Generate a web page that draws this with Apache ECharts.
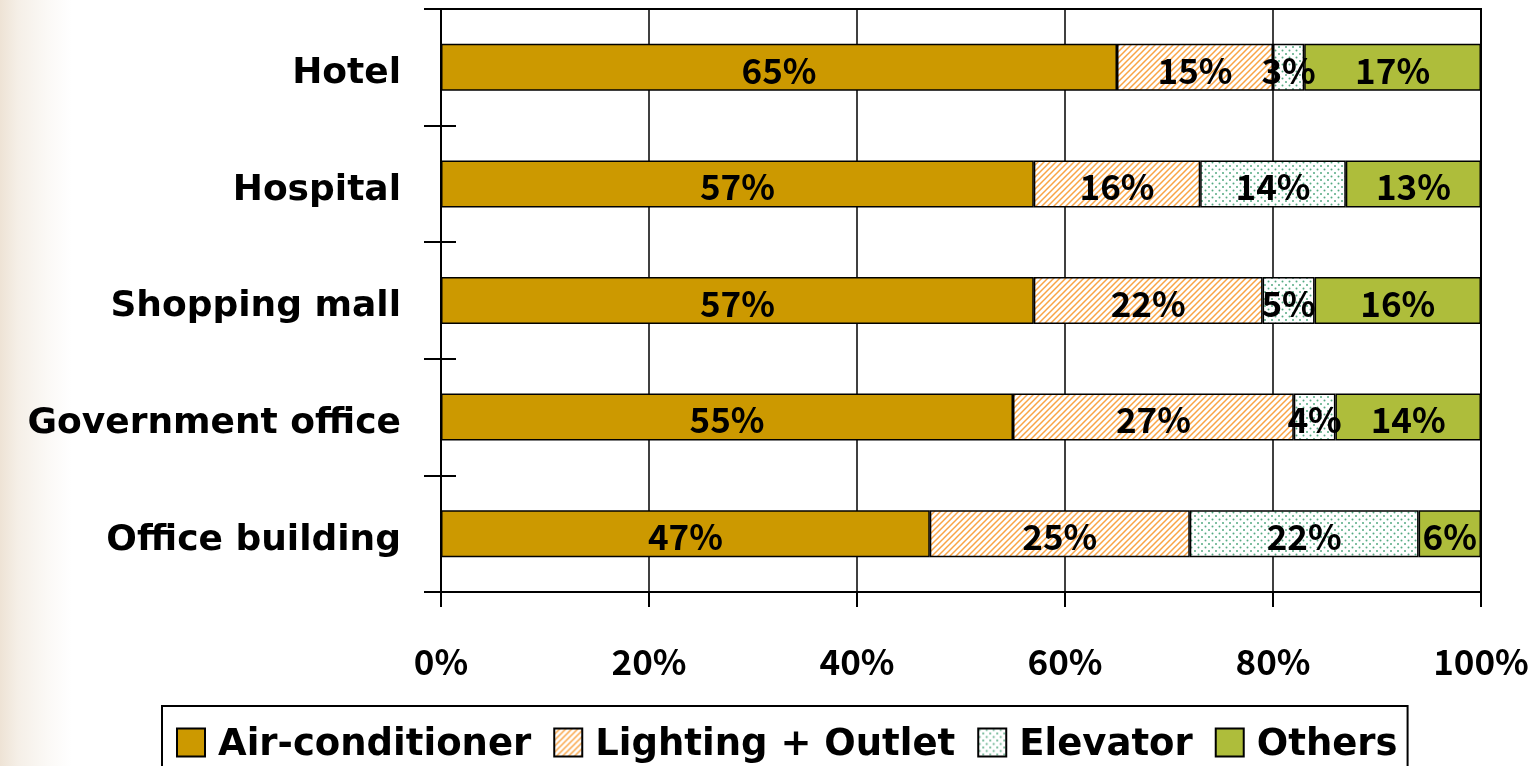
<!DOCTYPE html>
<html>
<head>
<meta charset="utf-8">
<script src="https://cdn.jsdelivr.net/npm/echarts@6/dist/echarts.min.js"></script>
<style>
html,body{margin:0;padding:0;background:#fff;}
#chart{width:1535px;height:766px;}
</style>
</head>
<body>
<div id="chart"></div>
<script>
const categories = ['Hotel', 'Hospital', 'Shopping mall', 'Government office', 'Office building'];
const seriesNames = ['Air-conditioner', 'Lighting + Outlet', 'Elevator', 'Others'];
const airConditioner = [65, 57, 57, 55, 47];
const lightingOutlet = [15, 16, 22, 27, 25];
const elevator = [3, 14, 5, 4, 22];
const others = [17, 13, 16, 14, 6];
const xTickValues = [0, 20, 40, 60, 80, 100];

function hatchPattern() {
  const c = document.createElement('canvas');
  c.width = 6; c.height = 6;
  const g = c.getContext('2d');
  g.fillStyle = '#fff'; g.fillRect(0, 0, 6, 6);
  g.strokeStyle = '#F9A445'; g.lineWidth = 1.5;
  g.beginPath();
  g.moveTo(0, 6); g.lineTo(6, 0);
  g.moveTo(-1, 1); g.lineTo(1, -1);
  g.moveTo(5, 7); g.lineTo(7, 5);
  g.stroke();
  return c;
}
function dotPattern() {
  const c = document.createElement('canvas');
  c.width = 7; c.height = 7;
  const g = c.getContext('2d');
  g.fillStyle = '#fff'; g.fillRect(0, 0, 7, 7);
  g.fillStyle = '#55AA82';
  g.beginPath(); g.arc(1.5, 1.5, 1.0, 0, Math.PI * 2); g.fill();
  g.beginPath(); g.arc(5, 5, 1.0, 0, Math.PI * 2); g.fill();
  return c;
}

const FONT = '"Noto Sans CJK JP", "Noto Sans", sans-serif';
const WIDE = '"DejaVu Sans", sans-serif';
const colors = [
  '#CC9900',
  { image: hatchPattern(), repeat: 'repeat' },
  { image: dotPattern(), repeat: 'repeat' },
  '#AEBD3B'
];
const values = [airConditioner, lightingOutlet, elevator, others];

function draw() {
  const chart = echarts.init(document.getElementById('chart'), null, { renderer: 'canvas' });

  const catAxisBase = {
    type: 'category',
    data: categories,
    inverse: true,
    position: 'left',
    axisLine: { show: true, lineStyle: { color: '#000', width: 2 } },
    splitLine: { show: false }
  };

  chart.setOption({
    animation: false,
    backgroundColor: '#fff',
    graphic: [{
      type: 'rect', z: -10, silent: true,
      shape: { x: 0, y: 0, width: 120, height: 766 },
      style: {
        fill: {
          type: 'linear', x: 0, y: 0, x2: 1, y2: 0,
          colorStops: [
            { offset: 0, color: '#EEE3D5' },
            { offset: 0.15, color: '#F5EFE7' },
            { offset: 0.4, color: '#FBF9F6' },
            { offset: 0.6, color: '#FFFFFF' },
            { offset: 1, color: '#FFFFFF' }
          ]
        }
      }
    }],
    grid: {
      left: 441, right: 54, top: 9, bottom: 174,
      show: true, borderColor: '#000', borderWidth: 2, backgroundColor: 'transparent'
    },
    legend: {
      data: seriesNames,
      left: 162, top: 706,
      padding: [15, 10, 30, 14],
      borderColor: '#000', borderWidth: 2,
      backgroundColor: '#fff',
      icon: 'rect',
      itemWidth: 28, itemHeight: 28, itemGap: 22,
      textStyle: {
        fontFamily: WIDE, fontSize: 37, color: '#000', fontWeight: 'bold',
        lineHeight: 6, padding: [0, 0, 0, 8]
      },
      formatter: function (name) { return '\n' + name; }
    },
    xAxis: {
      type: 'value', min: 0, max: 100, interval: 20,
      axisLine: { show: true, lineStyle: { color: '#000', width: 2 } },
      axisTick: { show: true, length: 15, lineStyle: { color: '#000', width: 2 } },
      splitLine: { show: true, lineStyle: { color: '#000', width: 1.5 } },
      axisLabel: {
        margin: 52, fontFamily: FONT, fontSize: 35, fontWeight: 'bold', color: '#000',
        formatter: function (v) { return xTickValues.indexOf(v) >= 0 ? v + '%' : ''; }
      }
    },
    yAxis: [
      Object.assign({}, catAxisBase, {
        axisTick: { show: true, length: 17, lineStyle: { color: '#000', width: 2 } },
        axisLabel: {
          margin: 40, fontFamily: WIDE, fontSize: 36, fontWeight: 'bold', color: '#000',
          lineHeight: 13,
          formatter: function (v) { return '\n' + v; }
        }
      }),
      Object.assign({}, catAxisBase, {
        axisTick: { show: true, inside: true, length: 15, lineStyle: { color: '#000', width: 2 } },
        axisLabel: { show: false }
      })
    ],
    series: seriesNames.map(function (name, i) {
      return {
        name: name,
        type: 'bar',
        stack: 'total',
        barWidth: 47,
        yAxisIndex: 0,
        data: values[i],
        itemStyle: { color: colors[i], borderColor: '#000', borderWidth: 1.5 },
        label: {
          show: true, position: 'inside', formatter: '{c}%', offset: [0, 3],
          fontFamily: FONT, fontSize: 35, fontWeight: 'bold', color: '#000'
        }
      };
    })
  });
}

if (document.fonts && document.fonts.load) {
  Promise.all([
    document.fonts.load('bold 35px "Noto Sans CJK JP"', '0123456789%'),
    document.fonts.load('bold 36px "DejaVu Sans"', 'Hotel')
  ]).then(draw, draw);
} else {
  draw();
}
</script>
</body>
</html>
